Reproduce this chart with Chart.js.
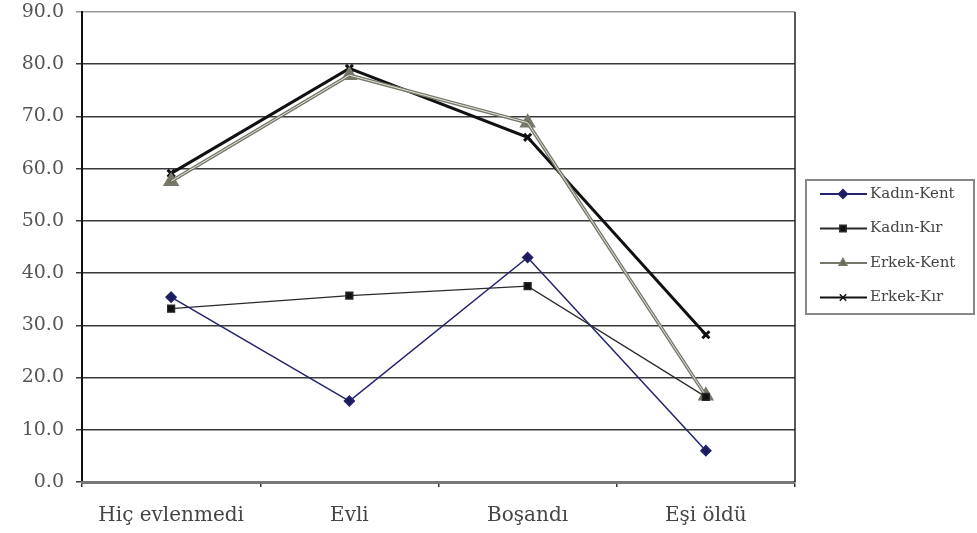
<!DOCTYPE html>
<html>
<head>
<meta charset="utf-8">
<script src="https://cdn.jsdelivr.net/npm/chart.js@4.4.1/dist/chart.umd.min.js"></script>
<style>
  html, body { margin: 0; padding: 0; background: #fff; }
</style>
</head>
<body>
<canvas id="chart" width="977" height="533"></canvas>
<script>
// Kategorie i serie
const categories = ["Hiç evlenmedi", "Evli", "Boşandı", "Eşi öldü"]
const seriesNames = ["Kadın-Kent", "Kadın-Kır", "Erkek-Kent", "Erkek-Kır"]
const kadinKent = [35.4, 15.5, 43.0, 6.0]
const kadinKir = [33.2, 35.7, 37.5, 16.3]
const erkekKent = [57.6, 77.9, 68.8, 16.5]
const erkekKir = [59.1, 79.2, 66.0, 28.2]
const yTicks = [0, 10, 20, 30, 40, 50, 60, 70, 80, 90]

const serif = "'DejaVu Serif', serif"

const datasets = [
  {
    label: seriesNames[0],
    data: kadinKent,
    borderColor: "#24246e",
    backgroundColor: "#1c1c5c",
    borderWidth: 1.5,
    pointStyle: "rectRot",
    pointRadius: 5,
  },
  {
    label: seriesNames[1],
    data: kadinKir,
    borderColor: "#2a2a2a",
    backgroundColor: "#111",
    borderWidth: 1.2,
    pointStyle: "rect",
    pointRadius: 5,
  },
  {
    label: seriesNames[2],
    data: erkekKent,
    borderColor: "#77776a",
    backgroundColor: "#6a6a50",
    borderWidth: 3.5,
    pointStyle: "triangle",
    pointRadius: 6,
  },
  {
    label: seriesNames[3],
    data: erkekKir,
    borderColor: "#111",
    backgroundColor: "#111",
    borderWidth: 3,
    pointStyle: "crossRot",
    pointRadius: 5,
  },
]

// Prawa krawedz obszaru wykresu, podwojna linia Erkek-Kent, legenda w ramce
const framePlugin = {
  id: "frame",
  beforeDatasetsDraw(chart) {
    const { ctx, chartArea } = chart
    ctx.save()
    ctx.strokeStyle = "#222"
    ctx.lineWidth = 1.5
    ctx.beginPath()
    ctx.moveTo(chartArea.right, chartArea.top)
    ctx.lineTo(chartArea.right, chartArea.bottom)
    ctx.stroke()
    ctx.restore()
  },
  afterDatasetDraw(chart, args) {
    if (args.index !== 2) return
    const { ctx } = chart
    const pts = args.meta.data
    ctx.save()
    ctx.strokeStyle = "#e4e4dc"
    ctx.lineWidth = 1
    ctx.beginPath()
    pts.forEach((p, i) => (i === 0 ? ctx.moveTo(p.x, p.y) : ctx.lineTo(p.x, p.y)))
    ctx.stroke()
    ctx.restore()
  },
  afterDraw(chart) {
    const { ctx } = chart
    ctx.save()
    ctx.strokeStyle = "#888"
    ctx.lineWidth = 2
    ctx.strokeRect(806, 180, 168, 134)
    chart.data.datasets.forEach((ds, i) => {
      const y = 194 + i * 34.5
      ctx.strokeStyle = ds.borderColor
      ctx.lineWidth = 2.2
      ctx.beginPath()
      ctx.moveTo(820, y)
      ctx.lineTo(867, y)
      ctx.stroke()
      ctx.fillStyle = ds.backgroundColor
      ctx.lineWidth = 1.5
      Chart.helpers.drawPoint(
        ctx,
        { pointStyle: ds.pointStyle, radius: 4.5, borderWidth: 1.5, rotation: 0 },
        843,
        y
      )
      ctx.fillStyle = "#444"
      ctx.font = "15px " + serif
      ctx.textBaseline = "middle"
      ctx.fillText(ds.label, 870, y)
    })
    ctx.restore()
  },
}

const config = {
  type: "line",
  data: { labels: categories, datasets: datasets },
  options: {
    responsive: false,
    animation: false,
    layout: { padding: { top: 12, right: 182, left: 0, bottom: 0 } },
    plugins: {
      legend: { display: false },
      tooltip: { enabled: false },
    },
    elements: {
      line: { tension: 0 },
      point: { borderWidth: 1 },
    },
    scales: {
      y: {
        min: 0,
        max: 90,
        afterFit(scale) {
          scale.width = 82
          scale.paddingTop = 0
          scale.paddingBottom = 0
        },
        afterBuildTicks(scale) {
          scale.ticks = yTicks.map((v) => ({ value: v }))
        },
        ticks: {
          padding: 12,
          color: "#555",
          font: { family: serif, size: 19 },
          callback: (v) => Number(v).toFixed(1),
        },
        grid: {
          color: (c) => (c.tick && c.tick.value === 90 ? "#999" : "#3a3a3a"),
          lineWidth: 1.5,
          tickLength: 6,
        },
        border: { color: "#111", width: 2 },
      },
      x: {
        offset: true,
        afterFit(scale) {
          scale.height = 51
          scale.paddingLeft = 0
          scale.paddingRight = 0
        },
        ticks: {
          padding: 17,
          color: "#444",
          font: { family: serif, size: 20 },
        },
        grid: {
          offset: true,
          drawOnChartArea: false,
          color: "#333",
          tickLength: 5,
          lineWidth: 1.5,
        },
        border: { color: "#777", width: 3 },
      },
    },
  },
  plugins: [framePlugin],
}

const chart = new Chart(document.getElementById("chart"), config)
</script>
</body>
</html>
